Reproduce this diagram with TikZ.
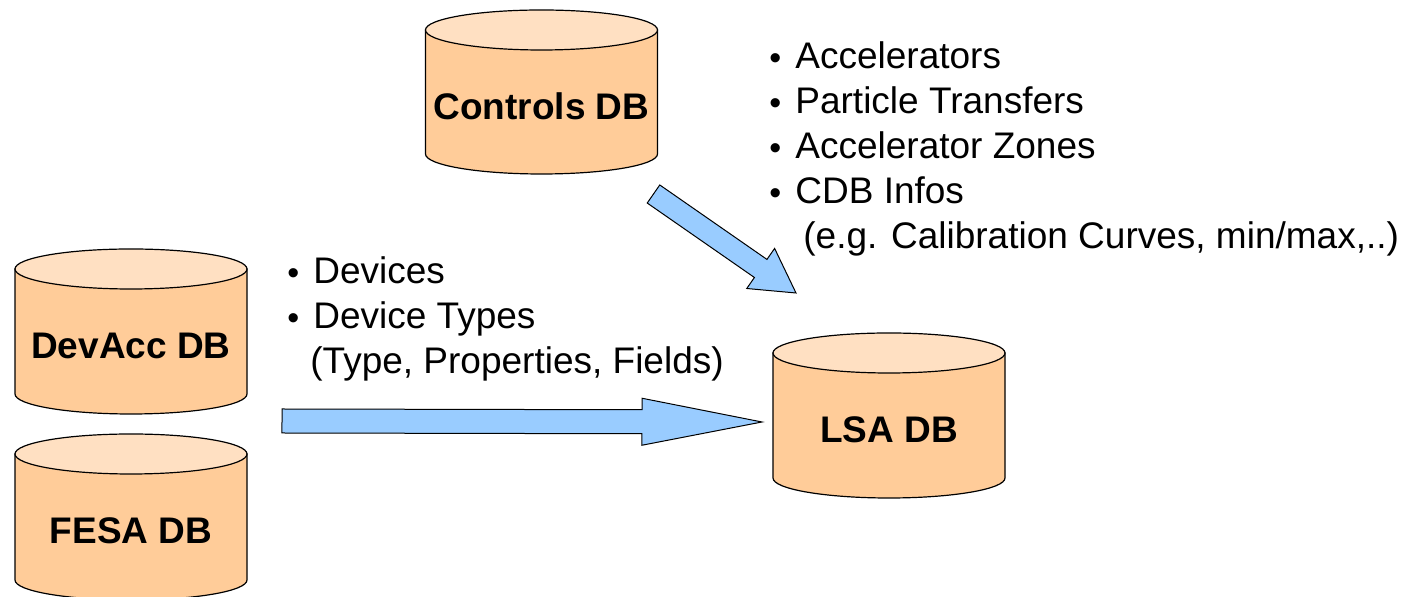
\documentclass[tikz,border=0pt]{standalone}
\usepackage{fontspec}
\setmainfont{Liberation Sans}
\usetikzlibrary{calc}

\definecolor{dbbody}{RGB}{255,204,153}
\definecolor{dbtop}{RGB}{255,224,194}
\definecolor{flowblue}{RGB}{153,204,255}

% cylinder: name, centre x, top y, bottom y, label
\newcommand{\dbcylinder}[5]{%
  \filldraw[dbshape, fill=dbbody] (#2-116,#3) -- (#2-116,#4)
    arc[start angle=180, end angle=0, x radius=116, y radius=20] -- (#2+116,#3) -- cycle;
  \filldraw[dbshape, fill=dbtop] (#2,#3) ellipse[x radius=116, y radius=20];
  \node[dblabel] (#1) at (#2, {(#3+#4)/2+14}) {#5};
}

% block arrow: tail, tip, shaft half width, head half width, head length
\newcommand{\blockarrow}[5]{%
  \coordinate (hb) at ($(#2)!#5!(#1)$);
  \filldraw[flowarrow] ($(#1)!#3!90:(#2)$) -- ($(hb)!#3!90:(#2)$) -- ($(hb)!#4!90:(#2)$)
    -- (#2) -- ($(hb)!#4!-90:(#2)$) -- ($(hb)!#3!-90:(#2)$) -- ($(#1)!#3!-90:(#2)$) -- cycle;
}

\newcommand{\itm}{\makebox[13pt][l]{\raisebox{-0.8pt}{\fontsize{17}{17}\selectfont\textbullet}}}

\begin{document}
\begin{tikzpicture}[x=0.5pt, y=-0.5pt,
    dbshape/.style={draw=black, line width=0.6pt},
    dblabel/.style={inner sep=0pt, font=\fontsize{18.5}{22}\selectfont\bfseries},
    flowarrow/.style={draw=black, fill=flowblue, line width=0.5pt, line join=miter},
    listtext/.style={inner sep=0pt, align=left, font=\fontsize{18.5}{22.5}\selectfont}]
  \useasboundingbox (0,0) rectangle (1409,597);

  \dbcylinder{ctrl}{541.5}{30}{154}{Controls DB}
  \dbcylinder{devacc}{131}{269}{394}{DevAcc DB}
  \dbcylinder{fesa}{131}{454}{580}{FESA DB}
  \dbcylinder{lsa}{889}{353}{478}{LSA DB}

  \coordinate (devtail) at (282,421);
  \coordinate (devtip) at (762,422);
  \coordinate (ctrltail) at (653.5,194);
  \coordinate (ctrltip) at (796,293);

  \blockarrow{devtail}{devtip}{6pt}{11.75pt}{60pt}
  \blockarrow{ctrltail}{ctrltip}{5.5pt}{12.2pt}{21.5pt}

  \node[listtext, anchor=north west] (ctrlinfo) at (769,41)
    {\itm Accelerators\\ \itm Particle Transfers\\ \itm Accelerator Zones\\ \itm CDB Infos\\
     \hspace{17pt}(e.g. Calibration Curves, min/max,..)};
  \node[listtext, anchor=north west] (devinfo) at (287,256)
    {\itm Devices\\ \itm Device Types\\ \hspace{11.5pt}(Type, Properties, Fields)};
\end{tikzpicture}
\end{document}
